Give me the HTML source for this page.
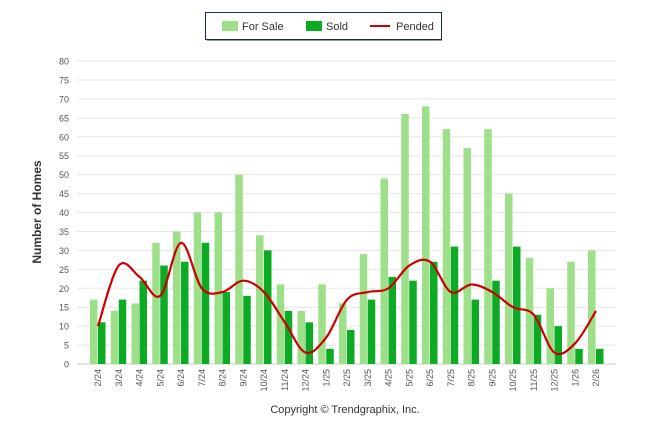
<!DOCTYPE html>
<html><head><meta charset="utf-8"><style>
body{margin:0;background:#fff;font-family:"Liberation Sans",sans-serif;}
svg text{font-family:"Liberation Sans",sans-serif;}
</style></head><body>
<svg width="646" height="434">
<g id="grid"></g>
<g id="bars"></g>
<path id="line" fill="none" stroke="#cc0000" stroke-width="2.2"/>
<g id="xl"></g>
<text transform="translate(41,212) rotate(-90)" text-anchor="middle" font-size="12" font-weight="bold" fill="#333">Number of Homes</text>
<text x="345" y="413" text-anchor="middle" font-size="11" fill="#333">Copyright © Trendgraphix, Inc.</text>
<g>
<rect x="205.5" y="12.5" width="236" height="27" fill="#fff" stroke="#1a2a5a" stroke-width="1"/>
<line x1="207" y1="40.5" x2="442" y2="40.5" stroke="#999"/>
<g><rect x="222" y="21" width="16" height="10" fill="#9edf8a"/><text x="242" y="30" font-size="11" fill="#333">For Sale</text></g>
<g><rect x="306" y="21" width="16" height="10" fill="#0daa26"/><text x="326" y="30" font-size="11" fill="#333">Sold</text></g>
<g><line x1="370" y1="26" x2="390" y2="26" stroke="#cc0000" stroke-width="2"/><text x="396" y="30" font-size="11" fill="#333">Pended</text></g>
</g>
</svg>
<script>
const categories=["2/24","3/24","4/24","5/24","6/24","7/24","8/24","9/24","10/24","11/24","12/24","1/25","2/25","3/25","4/25","5/25","6/25","7/25","8/25","9/25","10/25","11/25","12/25","1/26","2/26"];
const forSale=[17,14,16,32,35,40,40,50,34,21,14,21,16,29,49,66,68,62,57,62,45,28,20,27,30];
const sold=[11,17,22,26,27,32,19,18,30,14,11,4,9,17,23,22,27,31,17,22,31,13,10,4,4];
const pended=[10,26,23,18,32,20,19,22,19,11,3,7,17,19,20,26,27,19,21,19,15,13,3,5.5,14];
const yTicks=[0,5,10,15,20,25,30,35,40,45,50,55,60,65,70,75,80];
const NS="http://www.w3.org/2000/svg";
const y=v=>364-v*(303/80);
const x=i=>98+i*20.75;
function mk(t,a,p){const e=document.createElementNS(NS,t);for(const k in a)e.setAttribute(k,a[k]);p.appendChild(e);return e;}
const grid=document.getElementById('grid');
yTicks.forEach(t=>{
 const l=mk('line',{x1:77,x2:616,y1:y(t),y2:y(t),stroke:t===0?'#ccc':'#e6e6e6'},grid);
 
 
 const tx=mk('text',{x:69,y:y(t)+3.5,'text-anchor':'end','font-size':9,fill:'#555'},grid);
 tx.textContent=t;
 
 
});
const bars=document.getElementById('bars'),xl=document.getElementById('xl');
categories.forEach((c,i)=>{
 const b1=mk('rect',{x:x(i)-8,y:y(forSale[i]),width:7.5,height:364-y(forSale[i]),fill:'#9edf8a'},bars);
 
 
 const b2=mk('rect',{x:x(i),y:y(sold[i]),width:7.5,height:364-y(sold[i]),fill:'#0daa26'},bars);
 
 
 const t=mk('text',{transform:`translate(${x(i)+3},369) rotate(-90)`,'text-anchor':'end','font-size':9,fill:'#555'},xl);
 t.textContent=c;
 
 
});
const P=pended.map((v,i)=>[x(i),y(v)]);
let d=`M${P[0][0]},${P[0][1]}`;
for(let i=0;i<P.length-1;i++){
 const p0=P[i-1]||P[i],p1=P[i],p2=P[i+1],p3=P[i+2]||P[i+1];
 const c1=[p1[0]+(p2[0]-p0[0])/6,p1[1]+(p2[1]-p0[1])/6];
 const c2=[p2[0]-(p3[0]-p1[0])/6,p2[1]-(p3[1]-p1[1])/6];
 d+=` C${c1[0]},${c1[1]} ${c2[0]},${c2[1]} ${p2[0]},${p2[1]}`;
}
document.getElementById('line').setAttribute('d',d);
</script>
</body></html>
